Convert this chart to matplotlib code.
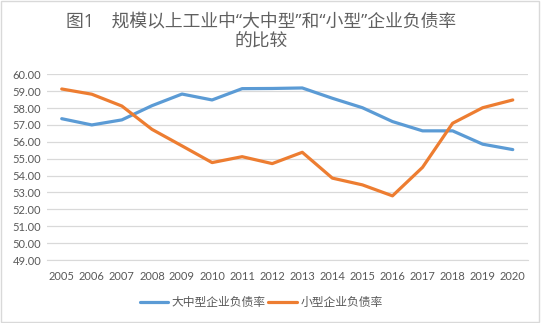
import matplotlib
matplotlib.use("Agg")
import matplotlib.pyplot as plt
from matplotlib.patches import Rectangle

plt.rcParams['font.family'] = ['Lato', 'Noto Sans CJK SC', 'DejaVu Sans']

years = ['2005', '2006', '2007', '2008', '2009', '2010', '2011', '2012',
         '2013', '2014', '2015', '2016', '2017', '2018', '2019', '2020']
large_medium = [57.37, 57.00, 57.30, 58.14, 58.83, 58.48, 59.15, 59.16,
                59.19, 58.58, 58.02, 57.20, 56.65, 56.65, 55.86, 55.54]
small = [59.13, 58.82, 58.12, 56.74, 55.76, 54.77, 55.12, 54.71,
         55.38, 53.85, 53.45, 52.80, 54.49, 57.10, 58.02, 58.48]
yticks = [49 + i for i in range(12)]
title = "图1\u3000规模以上工业中“大中型”和“小型”企业负债率\n的比较"
labels = ["大中型企业负债率", "小型企业负债率"]

fig = plt.figure(figsize=(5.43, 3.23), dpi=100)
fig.patches.append(Rectangle((0.002, 0.003), 0.99, 0.994, transform=fig.transFigure,
                             fill=False, edgecolor='#d9d9d9', linewidth=1))
ax = fig.add_axes([0.086, 0.195, 0.886, 0.575])

x = list(range(len(years)))
ax.plot(x, large_medium, color='#5B9BD5', linewidth=2.3, label=labels[0], solid_capstyle='round')
ax.plot(x, small, color='#ED7D31', linewidth=2.3, label=labels[1], solid_capstyle='round')

ax.set_xlim(-0.5, len(years) - 0.5)
ax.set_ylim(49, 60)
ax.set_yticks(yticks)
ax.set_yticklabels([f"{v:.2f}" for v in yticks])
ax.set_xticks(x)
ax.set_xticklabels(years)
ax.tick_params(axis='both', length=0, labelsize=8, colors='#595959')
ax.tick_params(axis='x', pad=8)
ax.tick_params(axis='y', pad=4)
ax.grid(axis='y', color='#d9d9d9', linewidth=0.9)
ax.set_axisbelow(True)
for s in ['top', 'right', 'left']:
    ax.spines[s].set_visible(False)
ax.spines['bottom'].set_color('#d9d9d9')

fig.text(0.481, 0.962, title, ha='center', va='top', fontsize=12.8, color='#606060',
         family=['Open Sans', 'Noto Sans CJK SC', 'DejaVu Sans'],
         linespacing=1.2)

leg = fig.legend(loc='center', bbox_to_anchor=(0.481, 0.063), ncol=2, frameon=False,
                 prop={'family': ['Noto Sans CJK SC', 'DejaVu Sans'], 'size': 8.5},
                 handlelength=2.4, columnspacing=0.2, handletextpad=0.3)
for t in leg.get_texts():
    t.set_color('#595959')

fig.savefig('out.png', dpi=100)
